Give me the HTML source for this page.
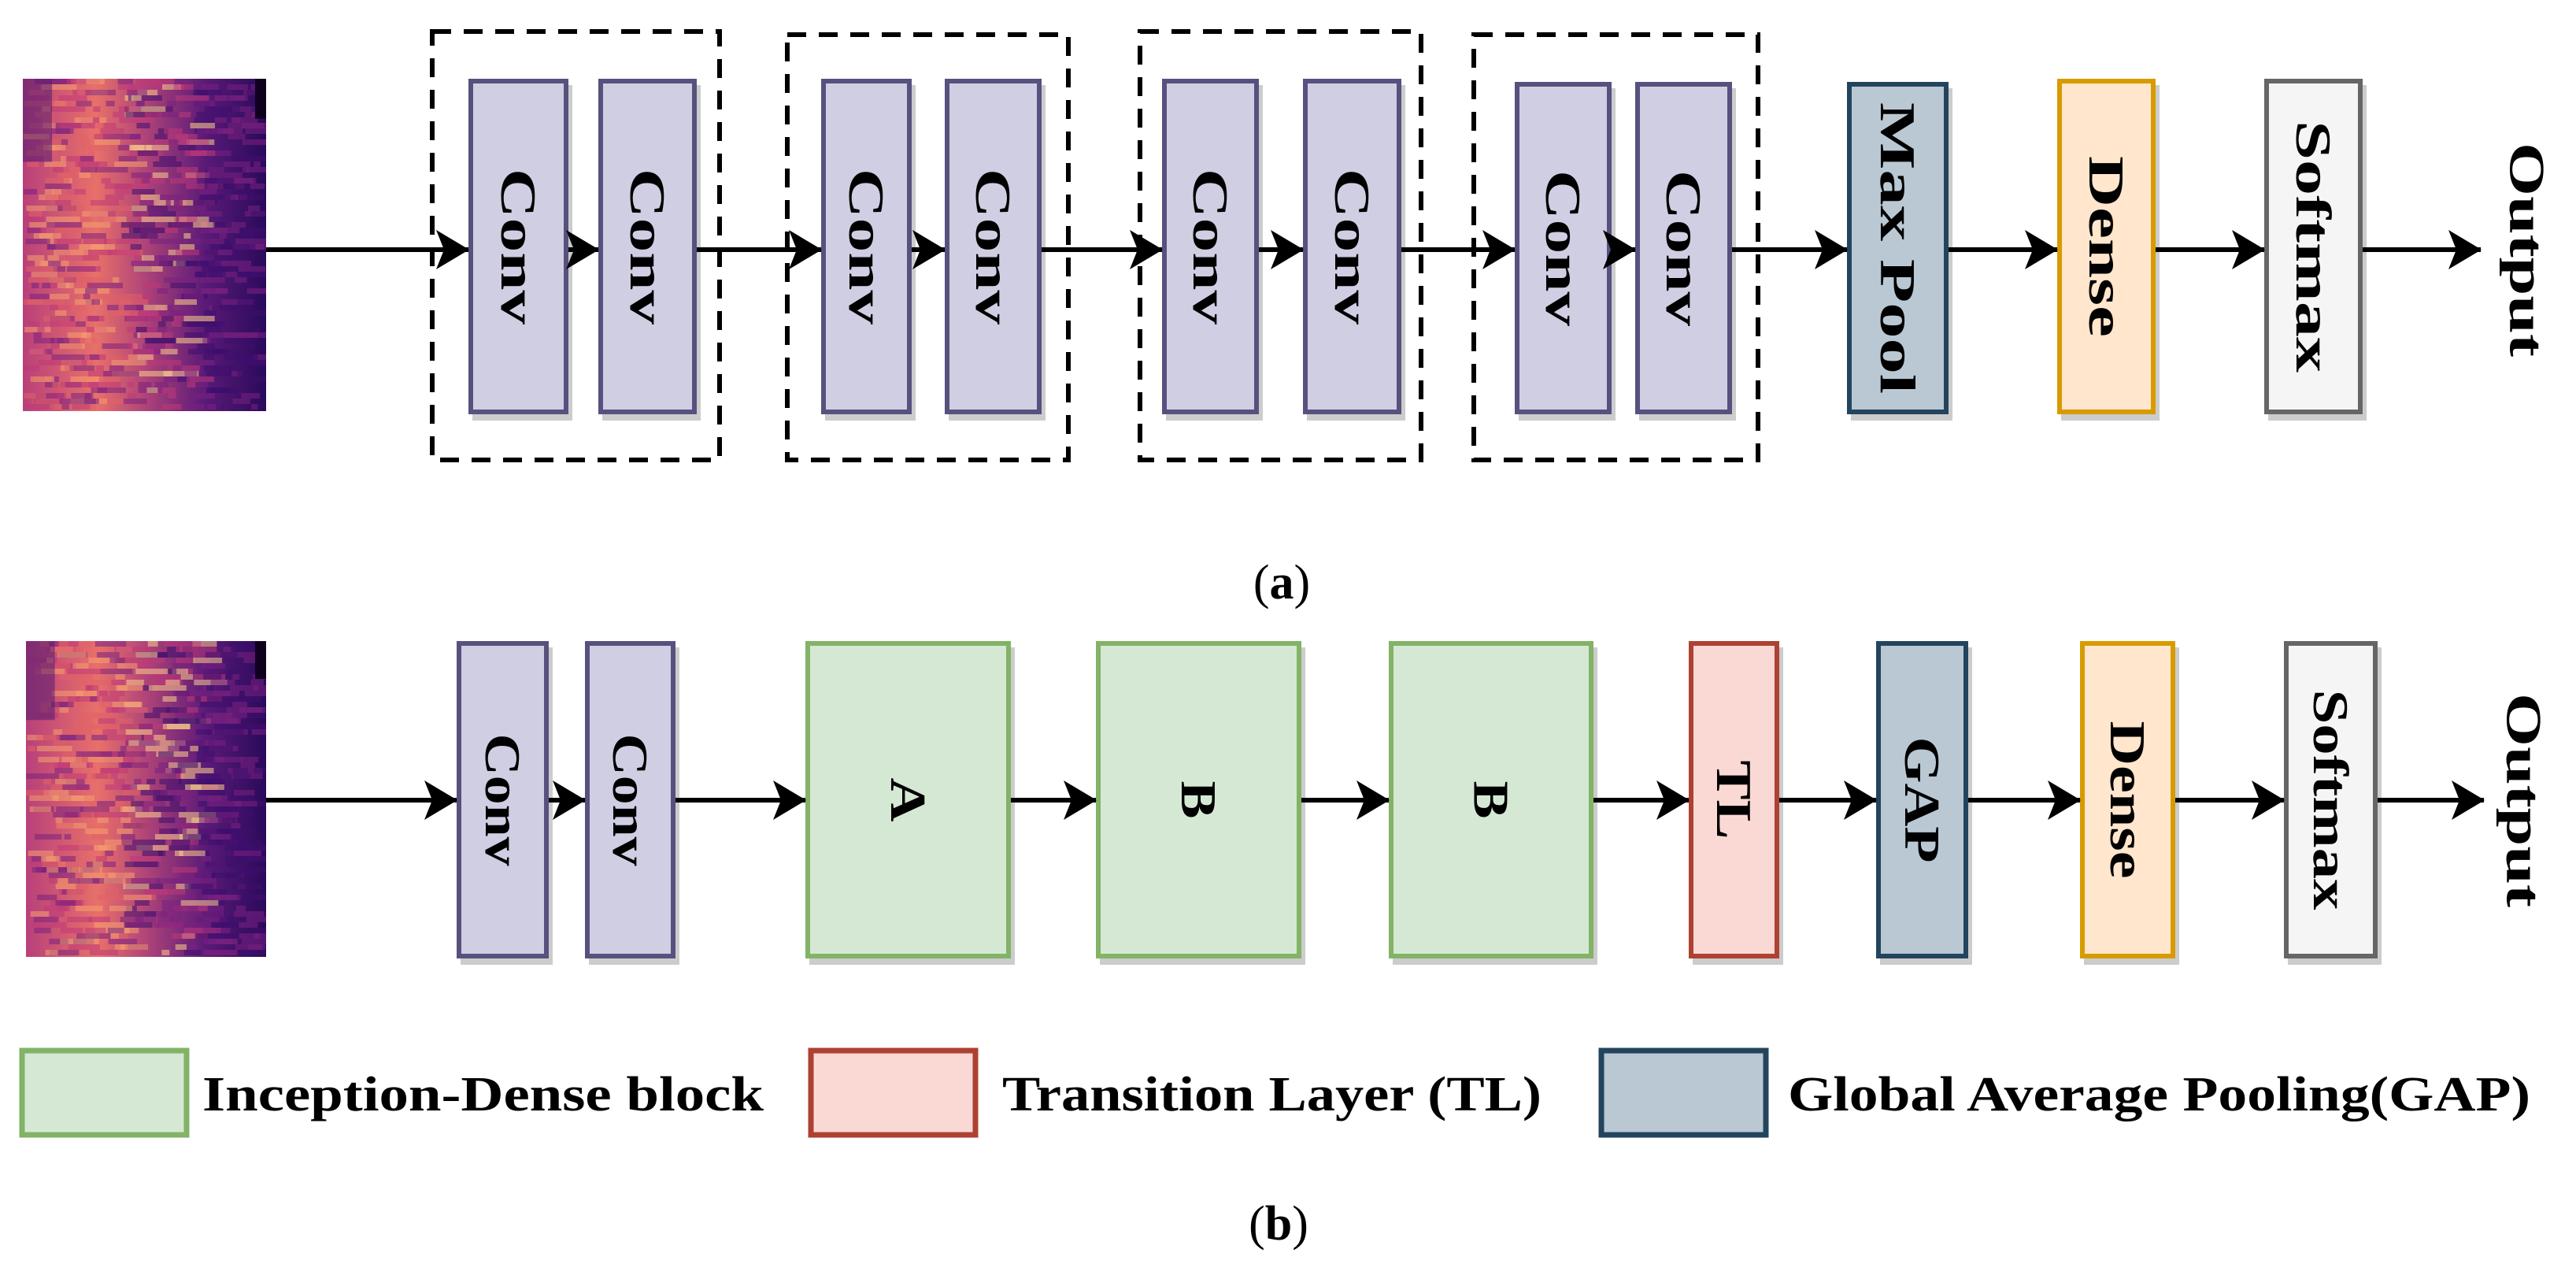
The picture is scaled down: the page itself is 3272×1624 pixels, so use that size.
<!DOCTYPE html>
<html><head><meta charset="utf-8"><style>
html,body{margin:0;padding:0;background:#fff;}
svg{display:block}
text{font-family:"Liberation Serif","Times New Roman",Times,serif;font-weight:bold;fill:#000;}
</style></head><body>
<svg id="s" width="3272" height="1624" viewBox="0 0 3272 1624" xmlns="http://www.w3.org/2000/svg">
<defs>
<linearGradient id="spec" x1="0" y1="0" x2="1" y2="0">
<stop offset="0" stop-color="#b8407a"/>
<stop offset="0.3" stop-color="#e8706a"/>
<stop offset="0.5" stop-color="#b04478"/>
<stop offset="0.75" stop-color="#5a1a78"/>
<stop offset="1" stop-color="#2a0a5a"/>
</linearGradient>
<marker id="ah" markerWidth="42" markerHeight="52" viewBox="0 0 42 52" refX="41" refY="26" orient="auto" markerUnits="userSpaceOnUse">
<path d="M0,1 L42,26 L0,51 L10,26 Z" fill="#000"/>
</marker>
</defs>
<g id="specs">
<rect id="sp1" x="29" y="100" width="309" height="422" fill="url(#spec)"/>
<rect id="sp2" x="33" y="814" width="305" height="401" fill="url(#spec)"/>
</g>
<g id="stripes"></g>

<g fill="none" stroke="#000" stroke-width="6" stroke-dasharray="24 16">
<rect x="549" y="40" width="365" height="544"/>
<rect x="1000" y="44" width="357" height="540"/>
<rect x="1448" y="40" width="357" height="544"/>
<rect x="1872" y="44" width="361" height="540"/>
</g>

<g id="boxes"></g>

<g stroke="#000" stroke-width="6" fill="none" marker-end="url(#ah)">
<line x1="338" y1="317" x2="595" y2="317"/>
<line x1="722" y1="317" x2="760" y2="317"/>
<line x1="885" y1="317" x2="1043" y2="317"/>
<line x1="1158" y1="317" x2="1200" y2="317"/>
<line x1="1323" y1="317" x2="1476" y2="317"/>
<line x1="1599" y1="317" x2="1655" y2="317"/>
<line x1="1780" y1="317" x2="1924" y2="317"/>
<line x1="2047" y1="317" x2="2077" y2="317"/>
<line x1="2200" y1="317" x2="2346" y2="317"/>
<line x1="2475" y1="317" x2="2613" y2="317"/>
<line x1="2738" y1="317" x2="2876" y2="317"/>
<line x1="3001" y1="317" x2="3151" y2="317"/>

<line x1="338" y1="1016" x2="580" y2="1016"/>
<line x1="697" y1="1016" x2="743" y2="1016"/>
<line x1="858" y1="1016" x2="1023" y2="1016"/>
<line x1="1284" y1="1016" x2="1392" y2="1016"/>
<line x1="1653" y1="1016" x2="1764" y2="1016"/>
<line x1="2024" y1="1016" x2="2145" y2="1016"/>
<line x1="2260" y1="1016" x2="2383" y2="1016"/>
<line x1="2500" y1="1016" x2="2642" y2="1016"/>
<line x1="2763" y1="1016" x2="2901" y2="1016"/>
<line x1="3020" y1="1016" x2="3155" y2="1016"/>
</g>

<g id="labels"></g>

<text transform="translate(3210,317) rotate(90)" text-anchor="middle" dominant-baseline="central" font-size="64" textLength="272" lengthAdjust="spacingAndGlyphs">Output</text>
<text transform="translate(3206,1016) rotate(90)" text-anchor="middle" dominant-baseline="central" font-size="64" textLength="272" lengthAdjust="spacingAndGlyphs">Output</text>

<text x="1628" y="760" text-anchor="middle" font-size="62" style="font-weight:normal">(<tspan style="font-weight:bold">a</tspan>)</text>
<text x="1624" y="1574" text-anchor="middle" font-size="62" style="font-weight:normal">(<tspan style="font-weight:bold">b</tspan>)</text>

<rect x="28" y="1334" width="209" height="107" fill="#d5e8d4" stroke="#82b366" stroke-width="7"/>
<text x="257" y="1410" font-size="62" textLength="713" lengthAdjust="spacingAndGlyphs">Inception-Dense block</text>
<rect x="1030" y="1334" width="209" height="107" fill="#fad9d5" stroke="#ae4132" stroke-width="7"/>
<text x="1273" y="1410" font-size="62" textLength="685" lengthAdjust="spacingAndGlyphs">Transition Layer (TL)</text>
<rect x="2034" y="1334" width="209" height="107" fill="#bac8d3" stroke="#23445d" stroke-width="7"/>
<text x="2271" y="1410" font-size="62" textLength="943" lengthAdjust="spacingAndGlyphs">Global Average Pooling(GAP)</text>
</svg>
<script>
var NS="http://www.w3.org/2000/svg";
function el(p,t,a){var e=document.createElementNS(NS,t);for(var k in a)e.setAttribute(k,a[k]);p.appendChild(e);return e;}
var S={conv:["#d0cee2","#56517e"],pool:["#bac8d3","#23445d"],dense:["#ffe6cc","#d79b00"],soft:["#f5f5f5","#666666"],green:["#d5e8d4","#82b366"],red:["#fad9d5","#ae4132"]};
var B=[
[595,722,100,526,"conv","Conv",198],[760,885,100,526,"conv","Conv",198],
[1043,1158,100,526,"conv","Conv",198],[1200,1323,100,526,"conv","Conv",198],
[1476,1599,100,526,"conv","Conv",198],[1655,1780,100,526,"conv","Conv",198],
[1924,2047,104,526,"conv","Conv",198],[2077,2200,104,526,"conv","Conv",198],
[2346,2475,104,526,"pool","Max Pool",370],[2613,2738,100,526,"dense","Dense",230],[2876,3001,100,526,"soft","Softmax",320],
[580,697,814,1217,"conv","Conv",168],[743,858,814,1217,"conv","Conv",168],
[1023,1284,814,1217,"green","A",56],[1392,1653,814,1217,"green","B",48],[1764,2024,814,1217,"green","B",48],
[2145,2260,814,1217,"red","TL",100],[2383,2500,814,1217,"pool","GAP",160],[2642,2763,814,1217,"dense","Dense",200],[2901,3020,814,1217,"soft","Softmax",280]
];
var g=document.getElementById("boxes"),L=document.getElementById("labels");
B.forEach(function(b){
 var x=b[0],w=b[1]-b[0],y=b[2],h=b[3]-b[2],c=S[b[4]];
 el(g,"rect",{x:x+5,y:y+8,width:w,height:h,fill:"#cccccc"});
 el(g,"rect",{x:x+3,y:y+3,width:w-6,height:h-6,fill:c[0],stroke:c[1],"stroke-width":6});
 var t=el(L,"text",{transform:"translate("+(x+w/2)+","+(y+h/2)+") rotate(90)","text-anchor":"middle","dominant-baseline":"central","font-size":64,textLength:b[6],lengthAdjust:"spacingAndGlyphs"});
 if(b[4]=="soft")t.setAttribute("fill","#333");
 t.textContent=b[5];
});
var st=document.getElementById("stripes");
function rnd(s){return function(){s=(s*9301+49297)%233280;return s/233280;};}
[[29,100,309,422,7],[33,814,305,401,13]].forEach(function(r){
 var R=rnd(r[4]);
 var cols=["#f5a070","#e06068","#c03878","#7a2080","#3e0f6e","#fcd08a","#d04a70","#9a2a80"];
 for(var y=r[1];y<r[1]+r[3]-6;y+=7){
  for(var i=0;i<10;i++){
   var xs=r[0]+R()*r[2]*0.95,w=8+R()*40;
   if(xs+w>r[0]+r[2])w=r[0]+r[2]-xs;
   var f=xs-r[0]<r[2]*0.4?cols[Math.floor(R()*4)]:(xs-r[0]<r[2]*0.7?cols[2+Math.floor(R()*4)]:cols[3+Math.floor(R()*2)]);
   el(st,"rect",{x:xs,y:y,width:w,height:7,fill:f,opacity:0.55});
  }
 }
 el(st,"rect",{x:r[0],y:r[1],width:r[2]*0.12,height:r[3]*0.25,fill:"#4a1670",opacity:0.5});
 el(st,"rect",{x:r[0]+r[2]-14,y:r[1],width:14,height:r[3]*0.12,fill:"#100020"});
});
</script>
</body></html>
